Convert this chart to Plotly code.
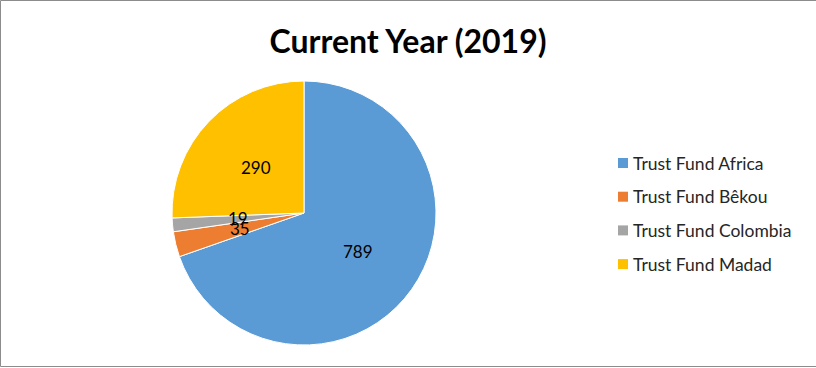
import math
import plotly.graph_objects as go

categories = ["Trust Fund Africa", "Trust Fund Bêkou", "Trust Fund Colombia", "Trust Fund Madad"]
values = [789, 35, 19, 290]
colors = ["#5B9BD5", "#ED7D31", "#A5A5A5", "#FFC000"]
title_text = "Current Year (2019)"

W, H = 816, 368
FONT = "Lato, 'Open Sans', sans-serif"

# pie placement (pixels)
cx_px, cy_px, R = 304, 213, 132
dom_x = [(cx_px - R) / W, (cx_px + R) / W]
dom_y = [1 - (cy_px + R) / H, 1 - (cy_px - R) / H]

fig = go.Figure()
fig.add_trace(go.Pie(
    labels=categories, values=values, sort=False, direction="clockwise",
    rotation=0, marker=dict(colors=colors, line=dict(color="white", width=1)),
    textinfo="none", hoverinfo="label+value", showlegend=False,
    domain=dict(x=dom_x, y=dom_y),
))

annotations = []
total = sum(values)
cum = 0
for v in values:
    mid = (cum + v / 2) / total * 2 * math.pi
    cum += v
    dx = 0.5 * R * math.sin(mid)
    dy = 0.5 * R * math.cos(mid)
    annotations.append(dict(
        x=(cx_px + dx) / W, y=1 - (cy_px - dy) / H, xref="paper", yref="paper",
        text=str(v), showarrow=False, font=dict(family=FONT, size=17, color="black"),
        xanchor="center", yanchor="middle",
    ))

shapes = [dict(type="rect", xref="paper", yref="paper", x0=0.5 / W, x1=1.01,
               y0=1 - 366.5 / H, y1=1 - 0.5 / H, line=dict(color="#8C8C8C", width=1))]

leg_x, leg_y0, leg_gap = 618, 163, 33.7
for i, (c, col) in enumerate(zip(categories, colors)):
    yc = leg_y0 + i * leg_gap
    shapes.append(dict(type="rect", xref="paper", yref="paper",
                       x0=leg_x / W, x1=(leg_x + 10) / W,
                       y0=1 - (yc + 5) / H, y1=1 - (yc - 5) / H,
                       fillcolor=col, line=dict(width=0)))
    annotations.append(dict(
        x=(leg_x + 13) / W, y=1 - yc / H, xref="paper", yref="paper",
        text=c, showarrow=False, xanchor="left", yanchor="middle",
        font=dict(family=FONT, size=17.5, color="#262626"),
    ))

fig.update_layout(
    width=W, height=H, margin=dict(l=0, r=0, t=0, b=0),
    paper_bgcolor="white", plot_bgcolor="white",
    title=dict(text="<b>" + title_text + "</b>", x=0.5, xanchor="center",
               y=1 - 42 / H, yanchor="middle",
               font=dict(family=FONT, size=32, color="black")),
    annotations=annotations, shapes=shapes,
)

fig.write_html("out.html", config={"displayModeBar": False},
               post_script="document.body.style.margin='0';document.body.style.overflow='hidden';")
